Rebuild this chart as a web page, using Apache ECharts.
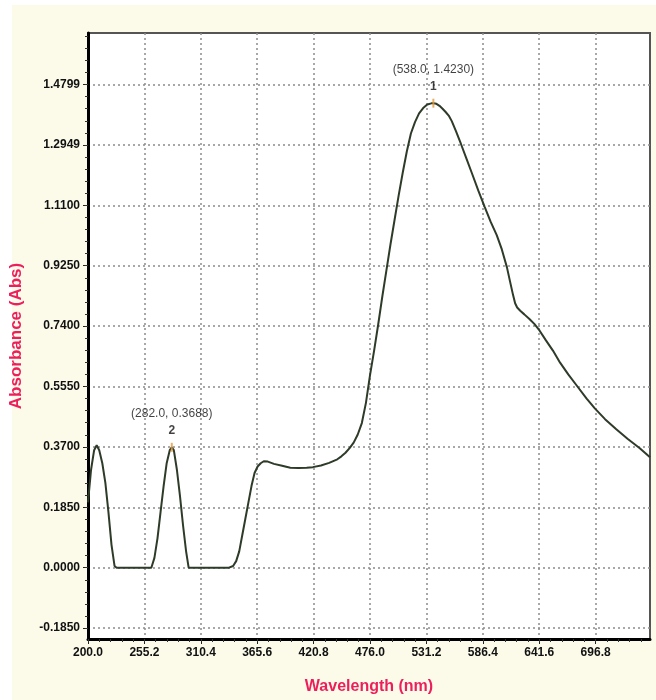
<!DOCTYPE html>
<html>
<head>
<meta charset="utf-8">
<script src="https://cdn.jsdelivr.net/npm/echarts@6.0.0/dist/echarts.min.js"></script>
<style>
  html, body { margin: 0; padding: 0; background: #fff; }
  .paper { position: absolute; left: 12px; top: 5px; width: 644px; height: 695px; background: #fcfbea; }
  .chart { position: absolute; left: 0; top: 0; width: 656px; height: 700px; }
</style>
</head>
<body>
<div class="paper"></div>
<div class="chart" id="spectrum"></div>
<script>
// spectrum: wavelength (nm) / absorbance (Abs)
const wavelength = [
  200, 203, 206, 208.5, 211, 214, 217, 220, 223, 226, 228,
  262, 265, 268, 271, 274, 277, 280, 282, 284, 287, 290, 293, 296, 298.5,
  338, 342, 345, 348, 351, 354, 357, 360, 363, 366, 369, 372, 376, 382, 390,
  398, 406, 414, 420, 428, 436, 444, 448, 452, 456, 460, 464, 468, 472, 476, 480,
  484, 488, 492, 496, 500, 504, 508, 512, 516, 520, 524, 528, 532, 536, 538,
  541, 544, 547, 550, 553, 556, 560, 565, 570, 576, 582, 588, 594, 600, 605, 610, 613,
  616, 618, 620, 623, 627, 632, 637, 642, 648, 655, 662, 670, 679, 688, 696, 706, 717,
  728, 740, 750
];
const absorbance = [
  0.20, 0.30, 0.36, 0.375, 0.36, 0.32, 0.26, 0.17, 0.07, 0.005, 0,
  0, 0.03, 0.09, 0.17, 0.25, 0.32, 0.36, 0.3688, 0.36, 0.30, 0.22, 0.13, 0.05, 0,
  0, 0.005, 0.02, 0.05, 0.10, 0.15, 0.20, 0.25, 0.29, 0.31, 0.32, 0.326, 0.325, 0.318, 0.312,
  0.306, 0.305, 0.306, 0.308, 0.313, 0.321, 0.332, 0.341, 0.352, 0.366, 0.383, 0.408, 0.443, 0.505, 0.59, 0.665,
  0.745, 0.83, 0.91, 0.99, 1.065, 1.14, 1.21, 1.275, 1.33, 1.365, 1.392, 1.408, 1.419, 1.4225, 1.4230,
  1.421, 1.415, 1.406, 1.396, 1.385, 1.368, 1.338, 1.298, 1.256, 1.206, 1.155, 1.107, 1.06, 1.019, 0.975, 0.92, 0.877,
  0.835, 0.81, 0.797, 0.787, 0.776, 0.762, 0.746, 0.726, 0.697, 0.665, 0.628, 0.592, 0.555, 0.518, 0.488, 0.455, 0.424,
  0.395, 0.366, 0.338
];

// picked peaks
const peakWavelength = [538.0, 282.0];
const peakAbsorbance = [1.4230, 0.3688];
const peakNumber = [1, 2];

// tick labels
const xTicks = [200.0, 255.2, 310.4, 365.6, 420.8, 476.0, 531.2, 586.4, 641.6, 696.8];
const yTicks = [-0.185, 0, 0.185, 0.37, 0.555, 0.74, 0.925, 1.11, 1.2949, 1.4799];

// minor ticks: 5 subdivisions between labelled ticks
function subdivide(ticks, min, max, n) {
  const step = (ticks[1] - ticks[0]) / n;
  const out = [];
  for (let v = ticks[0] - step * n; v <= max + 1e-9; v += step) {
    if (v >= min - 1e-9) out.push(+v.toFixed(4));
  }
  return out;
}

const xMin = 200, xMax = 750;
const yMin = -0.2185, yMax = 1.638;

const labelFont = {
  color: '#111',
  fontSize: 12,
  fontWeight: 'bold',
  fontFamily: 'Liberation Sans, Arial'
};
const nameFont = {
  color: '#ec1f5c',
  fontSize: 16,
  fontWeight: 'bold',
  fontFamily: 'Liberation Sans, Arial'
};
const gridLine = {
  show: true,
  lineStyle: { color: '#8c8c8c', width: 1.5, type: [2, 3] }
};

const chart = echarts.init(document.getElementById('spectrum'));

const option = {
  backgroundColor: 'transparent',
  animation: false,
  grid: {
    left: 88,
    right: 6,
    top: 33,
    bottom: 55,
    show: true,
    backgroundColor: '#fff',
    borderColor: '#555',
    borderWidth: 2
  },
  xAxis: [
    {
      type: 'value',
      min: xMin,
      max: xMax,
      name: 'Wavelength (nm)',
      nameLocation: 'middle',
      nameGap: 40,
      nameTextStyle: nameFont,
      axisLine: { show: true, onZero: false, lineStyle: { color: '#000', width: 3 } },
      axisTick: { show: true, customValues: xTicks, length: 5, lineStyle: { color: '#222', width: 1 } },
      axisLabel: Object.assign({}, labelFont, {
        customValues: xTicks,
        margin: 8,
        formatter: v => v.toFixed(1)
      }),
      splitLine: gridLine
    },
    {
      type: 'value',
      min: xMin,
      max: xMax,
      position: 'bottom',
      axisLine: { show: false, onZero: false },
      axisTick: {
        show: true,
        customValues: subdivide(xTicks, xMin, xMax, 5),
        length: 3,
        lineStyle: { color: '#333', width: 1 }
      },
      axisLabel: { show: false },
      splitLine: { show: false }
    }
  ],
  yAxis: [
    {
      type: 'value',
      min: yMin,
      max: yMax,
      name: 'Absorbance (Abs)',
      nameLocation: 'middle',
      nameGap: 63,
      nameTextStyle: Object.assign({}, nameFont, { fontSize: 17 }),
      axisLine: { show: true, onZero: false, lineStyle: { color: '#000', width: 3 } },
      axisTick: { show: true, customValues: yTicks, length: 5, lineStyle: { color: '#222', width: 1 } },
      axisLabel: Object.assign({}, labelFont, {
        customValues: yTicks,
        margin: 8,
        formatter: v => v.toFixed(4)
      }),
      splitLine: gridLine
    },
    {
      type: 'value',
      min: yMin,
      max: yMax,
      position: 'left',
      axisLine: { show: false, onZero: false },
      axisTick: {
        show: true,
        customValues: subdivide(yTicks, yMin, yMax, 5),
        length: 3,
        lineStyle: { color: '#333', width: 1 }
      },
      axisLabel: { show: false },
      splitLine: { show: false }
    }
  ],
  series: [
    {
      name: 'spectrum',
      type: 'line',
      xAxisIndex: 0,
      yAxisIndex: 0,
      data: wavelength.map((w, i) => [w, absorbance[i]]),
      showSymbol: false,
      smooth: false,
      lineStyle: { color: '#2e3b28', width: 2 },
      z: 3
    },
    {
      name: 'peaks',
      type: 'scatter',
      xAxisIndex: 0,
      yAxisIndex: 0,
      data: peakWavelength.map((w, i) => [w, peakAbsorbance[i]]),
      symbol: 'rect',
      symbolSize: [2, 9],
      itemStyle: { color: '#e39a3c' },
      label: {
        show: true,
        position: 'top',
        distance: 4,
        formatter: p => '{a|(' + p.value[0].toFixed(1) + ', ' + p.value[1].toFixed(4) + ')}\n{b|' + peakNumber[p.dataIndex] + '}',
        rich: {
          a: { color: '#111', fontSize: 12, fontFamily: 'Liberation Sans, Arial', lineHeight: 18 },
          b: { color: '#111', fontSize: 12, fontWeight: 'bold', fontFamily: 'Liberation Sans, Arial', lineHeight: 16 }
        }
      },
      z: 4
    }
  ]
};

chart.setOption(option);
</script>
</body>
</html>
